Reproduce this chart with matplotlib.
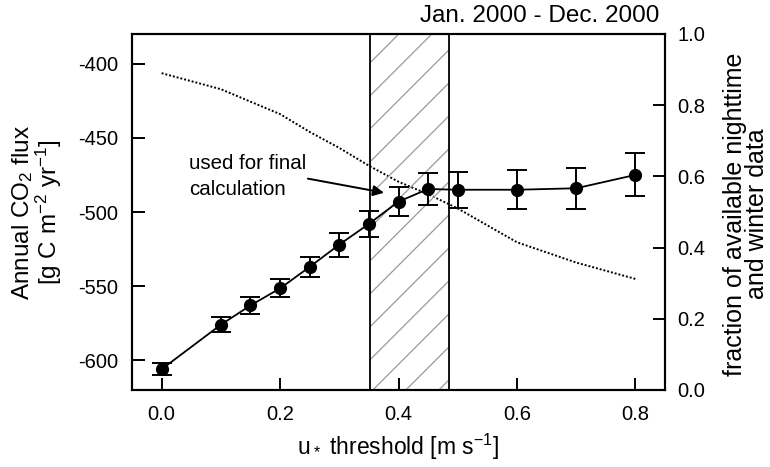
import numpy as np
import matplotlib
matplotlib.use('Agg')
from matplotlib import pyplot as plt
from matplotlib.patches import Rectangle

# u* threshold values and annual flux with error bars
u_star = [0.0, 0.1, 0.15, 0.2, 0.25, 0.3, 0.35, 0.4, 0.45, 0.5, 0.6, 0.7, 0.8]
flux = [-606, -576, -563, -551.5, -537, -522, -508, -493, -484.5, -485, -485, -484, -475]
flux_err = [4, 5, 5.5, 6, 7, 8, 9, 10, 11, 12, 13, 14, 14.5]

# fraction of available nighttime and winter data (dotted line)
fraction = [0.89, 0.845, 0.81, 0.775, 0.725, 0.68, 0.63, 0.585, 0.55, 0.51, 0.415, 0.358, 0.312]

# range used for the final calculation (hatched band)
band = [0.352, 0.485]

plt.rcParams['font.family'] = ['Liberation Sans', 'DejaVu Sans']
plt.rcParams['mathtext.default'] = 'regular'
plt.rcParams['axes.unicode_minus'] = False
plt.rcParams['axes.linewidth'] = 1.5

fig = plt.figure(figsize=(7.7, 4.67), dpi=100)
ax = fig.add_axes([132/770, 1 - 390/467, 533/770, 356/467])
ax.set_xlim(-0.05, 0.85)
ax.set_ylim(-620, -380)

# hatched band with hand drawn diagonal lines (45 deg on screen)
rect = Rectangle((band[0], -620), band[1] - band[0], 240, facecolor='none',
                 edgecolor='k', lw=1.3, zorder=1)
ax.add_patch(rect)
inv = ax.transData.inverted()
x0p, y0p = ax.transData.transform((band[0], -620))
x1p, y1p = ax.transData.transform((band[1], -380))
for c in np.arange(y0p - x1p + 10, y1p - x0p, 33):
    pts = inv.transform([(x0p, x0p + c), (x1p, x1p + c)])
    hl, = ax.plot(pts[:, 0], pts[:, 1], color='#9a9a9a', lw=0.9, zorder=0.5)
    hl.set_clip_path(rect)

ax.errorbar(u_star, flux, yerr=flux_err, fmt='o-', color='k', ms=8.5, lw=1.3,
            elinewidth=1.4, capsize=7, capthick=1.4, zorder=5)

ax.set_xticks([0.0, 0.2, 0.4, 0.6, 0.8])
ax.set_xticklabels(['0.0', '0.2', '0.4', '0.6', '0.8'])
ax.set_yticks([-600, -550, -500, -450, -400])
ax.tick_params(direction='in', length=9, width=1.4, labelsize=14.5, pad=10)
ax.tick_params(axis='x', pad=11)

ax2 = ax.twinx()
ax2.set_ylim(0, 1)
ax2.plot(u_star, fraction, color='k', lw=1.4, linestyle=(0, (1, 1)), zorder=3)
ax2.set_yticks([0.0, 0.2, 0.4, 0.6, 0.8, 1.0])
ax2.set_yticklabels(['0.0', '0.2', '0.4', '0.6', '0.8', '1.0'])
ax2.tick_params(direction='in', length=9, width=1.4, labelsize=14.5, pad=9)
ax.set_zorder(ax2.get_zorder() + 1)
ax.patch.set_visible(False)

ax.text(0.046, -476, 'used for final\ncalculation', fontsize=14.8, va='center',
        ha='left', linespacing=1.45)
ax.annotate('', xy=(0.3755, -487), xytext=(0.247, -477.5),
            arrowprops=dict(arrowstyle='-|>', color='k', lw=1.4,
                            mutation_scale=16, shrinkA=0, shrinkB=0))

ax.text(0.99, 1.02, 'Jan. 2000 - Dec. 2000', transform=ax.transAxes,
        ha='right', va='bottom', fontsize=17.5)

fig.text(398/770, 1 - 447/467, r'u$_*$ threshold [m s$^{-1}$]', ha='center',
         va='center', fontsize=16.5)
fig.text(37/770, 1 - 212/467, 'Annual CO$_2$ flux\n[g C m$^{-2}$ yr$^{-1}$]',
         rotation=90, ha='center', va='center', fontsize=17.5, linespacing=0.95)
fig.text(746/770, 1 - 214/467, 'fraction of available nighttime\nand winter data',
         rotation=90, ha='center', va='center', fontsize=18, linespacing=0.88)

fig.savefig('out.png', dpi=100)
